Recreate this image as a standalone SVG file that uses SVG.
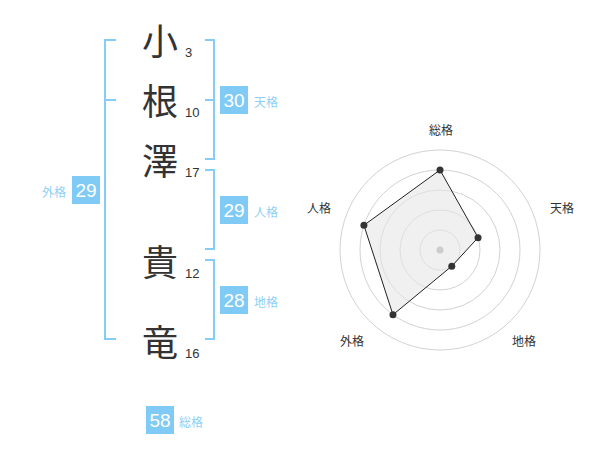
<svg xmlns="http://www.w3.org/2000/svg" width="600" height="470" viewBox="0 0 600 470">
<style>
.k{font-family:"Noto Sans CJK JP","Noto Sans CJK SC",sans-serif;font-size:36px;fill:#333;text-anchor:middle}
.n{font-family:"Liberation Sans",Arial,sans-serif;font-size:13px;fill:#333}
.br{fill:none;stroke:#85cdf6;stroke-width:2}
.box{fill:#80cbf6}
.bt{font-family:"Liberation Sans",Arial,sans-serif;font-size:19px;fill:#fff;text-anchor:middle}
.lb{font-family:"Noto Sans CJK JP","Noto Sans CJK SC",sans-serif;font-size:12px;fill:#8dd0f6}
.rl{font-family:"Noto Sans CJK JP","Noto Sans CJK SC",sans-serif;font-size:12px;fill:#333;text-anchor:middle}
.ring{fill:none;stroke:#d2d2d2;stroke-width:1}
.dot{fill:#333}
</style>
<rect width="600" height="470" fill="#fff"/>
<g id="connectors">
<path class="br" d="M116,40H105V339H116M105,100H116"/>
<path class="br" d="M205,40H214V159H205M214,100H205"/>
<path class="br" d="M205,170H214V249H205"/>
<path class="br" d="M205,260H214V339H205"/>
</g>
<g id="char1"><text class="k" x="160" y="54.5">小</text><text class="n" x="185" y="57">3</text></g>
<g id="char2"><text class="k" x="160" y="114.5">根</text><text class="n" x="185" y="117">10</text></g>
<g id="char3"><text class="k" x="160" y="174.5">澤</text><text class="n" x="185" y="177">17</text></g>
<g id="char4"><text class="k" x="160" y="275.5">貴</text><text class="n" x="185" y="278">12</text></g>
<g id="char5"><text class="k" x="160" y="355.5">竜</text><text class="n" x="185" y="358">16</text></g>
<g id="tenkaku"><rect class="box" x="220" y="86" width="28" height="28"/><text class="bt" x="234" y="107">30</text><text class="lb" x="254" y="107">天格</text></g>
<g id="jinkaku"><rect class="box" x="220" y="196" width="28" height="28"/><text class="bt" x="234" y="217">29</text><text class="lb" x="254" y="217">人格</text></g>
<g id="chikaku"><rect class="box" x="220" y="286" width="28" height="28"/><text class="bt" x="234" y="307">28</text><text class="lb" x="254" y="307">地格</text></g>
<g id="gaikaku"><rect class="box" x="72" y="176" width="28" height="28"/><text class="bt" x="86" y="197">29</text><text class="lb" x="66" y="197" text-anchor="end">外格</text></g>
<g id="soukaku"><rect class="box" x="146" y="406" width="28" height="28"/><text class="bt" x="160" y="427">58</text><text class="lb" x="179" y="427">総格</text></g>
<g id="radar">
<circle class="ring" cx="440" cy="250" r="20"/>
<circle class="ring" cx="440" cy="250" r="40"/>
<circle class="ring" cx="440" cy="250" r="60"/>
<circle class="ring" cx="440" cy="250" r="80"/>
<circle class="ring" cx="440" cy="250" r="100"/>
<polygon points="440,170 478.04,237.64 451.76,266.18 392.98,314.72 363.92,225.28" fill="#e6e6e6" fill-opacity="0.6" stroke="#222" stroke-width="1"/>
<circle cx="440" cy="250" r="3.5" fill="#ccc"/>
<circle class="dot" cx="440" cy="170" r="3.5"/>
<circle class="dot" cx="478.04" cy="237.64" r="3.5"/>
<circle class="dot" cx="451.76" cy="266.18" r="3.5"/>
<circle class="dot" cx="392.98" cy="314.72" r="3.5"/>
<circle class="dot" cx="363.92" cy="225.28" r="3.5"/>
<text class="rl" x="441" y="135">総格</text>
<text class="rl" x="562" y="213">天格</text>
<text class="rl" x="319" y="213">人格</text>
<text class="rl" x="352" y="346">外格</text>
<text class="rl" x="524" y="346">地格</text>
</g>
</svg>
